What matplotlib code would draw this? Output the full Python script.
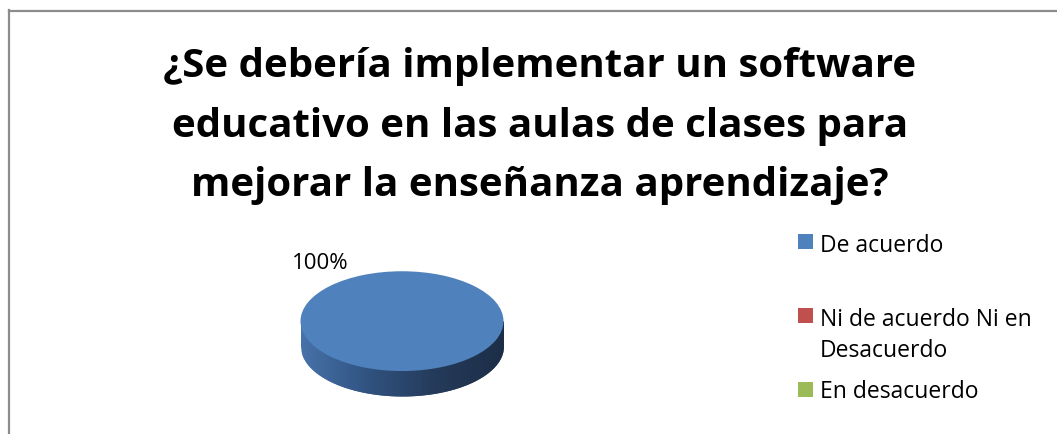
import numpy as np
import matplotlib
matplotlib.use("Agg")
import matplotlib.pyplot as plt
from matplotlib.colors import LinearSegmentedColormap
from matplotlib.patches import Rectangle
from matplotlib.lines import Line2D

# chart data
title_lines = [
    "¿Se debería implementar un software",
    "educativo en las aulas de clases para",
    "mejorar la enseñanza aprendizaje?",
]
categories = ["De acuerdo", "Ni de acuerdo Ni en\nDesacuerdo", "En desacuerdo"]
values = [100, 0, 0]
colors = ["#4f81bd", "#c0504d", "#9bbb59"]

W, H = 1057, 435
plt.rcParams["font.family"] = ["Open Sans", "DejaVu Sans"]

fig = plt.figure(figsize=(W / 100, H / 100), dpi=100)
fig.patch.set_facecolor("white")

def fx(px):
    return px / W

def fy(py):
    return 1 - py / H

# chart area border (only left and top show in the crop)
fig.add_artist(Line2D([fx(9), fx(9)], [fy(11), 0], color="#8c8c8c", lw=1.6))
fig.add_artist(Line2D([fx(9), 1], [fy(11.5), fy(11.5)], color="#8c8c8c", lw=1.6))

# title
for i, line in enumerate(title_lines):
    fig.text(fx(540), fy(77 + 59.5 * i), line, ha="center", va="baseline",
             fontsize=29, fontweight="bold", color="black")

# 3d-looking pie: top face squashed into an ellipse, side drawn below
depth = 0.5
ax = fig.add_axes([fx(300), fy(398), fx(204), 126 / H])

shade = LinearSegmentedColormap.from_list(
    "side", ["#4672aa", "#30527f", "#243a5a", "#1c2e47"])
edges = np.linspace(-1, 1, 121)
for k in range(len(edges) - 1):
    # each strip overlaps the next one so no seams show
    right = edges[min(k + 2, len(edges) - 1)]
    xs = np.linspace(edges[k], right, 6)
    low = -depth - np.sqrt(np.clip(1 - xs ** 2, 0, None))
    ax.fill_between(xs, low, 0, color=shade(k / (len(edges) - 2)), lw=0, zorder=1)

ax.pie(values, colors=colors, startangle=90, counterclock=False, radius=1,
       wedgeprops=dict(linewidth=0, zorder=2))
ax.set_aspect("auto")
ax.set_xlim(-1.005, 1.005)
ax.set_ylim(1 - 126 / 50, 1.005)
ax.axis("off")

fig.text(fx(292), fy(269), f"{values[0]}%", ha="left", va="baseline", fontsize=16)

# legend drawn by hand (uneven spacing as in the original)
square_tops = [235, 309, 383]
baselines = [252, 326, 398]
for cat, col, top, base in zip(categories, colors, square_tops, baselines):
    fig.add_artist(Rectangle((fx(798), fy(top + 15)), fx(15), 15 / H,
                             facecolor=col, edgecolor="none"))
    for j, part in enumerate(cat.split("\n")):
        fig.text(fx(820), fy(base + 31 * j), part, ha="left", va="baseline",
                 fontsize=16.5)

fig.savefig("out.png", dpi=100)
